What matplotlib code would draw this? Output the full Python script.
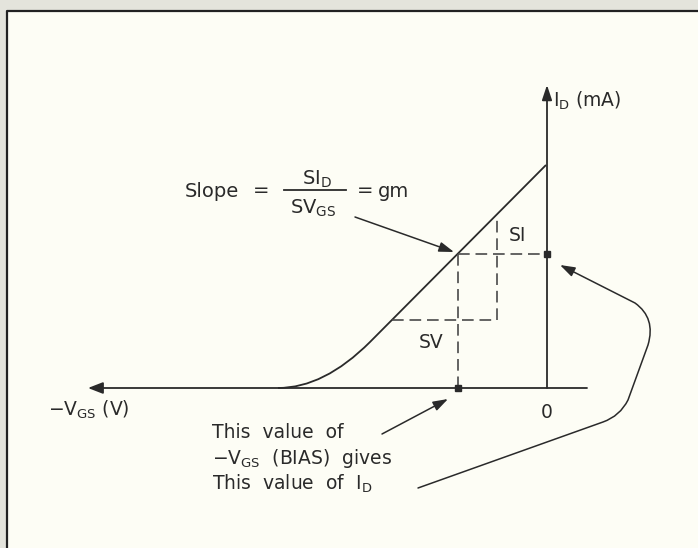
import matplotlib.pyplot as plt
from matplotlib.path import Path
from matplotlib.patches import PathPatch, FancyArrowPatch, Rectangle

# diagram units: 1 unit = 10 px, origin where the two axes cross
curve_v = [-26.9, -22.3, -17.7, -0.1]      # cutoff, bezier control, join, hits I_D axis
curve_i = [0.0, 0.0, 4.6, 22.3]
q_v, q_i = -8.9, 13.4                      # bias point
tri_v = [-15.5, -5.0, -5.0]                # SV / SI construction
tri_i = [6.8, 6.8, 17.3]
hook_v = [-12.9, 5.6, 7.3, 8.1, 10.1, 10.9, 8.8, 1.3]
hook_i = [-10.0, -3.4, -2.8, -1.2, 4.3, 7.0, 8.5, 12.3]

ink = '#2a2a2a'
fs = 13.5
fig = plt.figure(figsize=(6.98, 5.48), dpi=100, facecolor='#e4e4dc')
ax = fig.add_axes([0, 0, 1, 1])
ax.set_xlim(-54.7, 15.1)
ax.set_ylim(-16.0, 38.8)
ax.axis('off')

# paper panel with dark top/left edge
ax.add_patch(Rectangle((7 / 698, 0), 1, 1 - 11 / 548, transform=ax.transAxes,
                       facecolor='#fdfdf5', edgecolor='none', zorder=0))
ax.plot([7 / 698, 7 / 698, 1], [0, 1 - 11 / 548, 1 - 11 / 548], transform=ax.transAxes,
        color='#222222', lw=1.6, zorder=1)

# axes with arrows
ax.add_patch(FancyArrowPatch((4.0, 0), (-45.9, 0), arrowstyle='-|>,head_length=0.9,head_width=0.35',
                             color=ink, lw=1.3, mutation_scale=10, shrinkA=0, shrinkB=0))
ax.add_patch(FancyArrowPatch((0, 0), (0, 30.3), arrowstyle='-|>,head_length=0.9,head_width=0.3',
                             color=ink, lw=1.3, mutation_scale=10, shrinkA=0, shrinkB=0))

# transfer curve
verts = list(zip(curve_v, curve_i))
codes = [Path.MOVETO, Path.CURVE3, Path.CURVE3, Path.LINETO]
ax.add_patch(PathPatch(Path(verts, codes), facecolor='none', edgecolor=ink, lw=1.3))

# dashed constructions
dash = dict(color='#4a4a4a', lw=1.2, linestyle=(0, (7, 3.5)))
ax.plot([q_v, 0], [q_i, q_i], **dash)
ax.plot([q_v, q_v], [q_i, 0], **dash)
ax.plot(tri_v, tri_i, **dash)
ax.plot([0, q_v], [q_i, 0], 's', color=ink, markersize=4.5, linestyle='none')

ax.text(-3.0, 15.2, 'SI', fontsize=fs, ha='center', va='center', color=ink)
ax.text(-11.6, 4.6, 'SV', fontsize=fs, ha='center', va='center', color=ink)

# slope formula
ax.text(-36.2, 19.6, 'Slope', fontsize=14, ha='left', va='center', color=ink)
ax.text(-28.6, 19.7, '=', fontsize=14, ha='center', va='center', color=ink)
ax.text(-23.0, 20.3, 'SI$_\\mathregular{D}$', fontsize=14, ha='center', va='baseline', color=ink)
ax.plot([-26.3, -20.1], [19.8, 19.8], color=ink, lw=1.3)
ax.text(-23.4, 17.4, 'SV$_\\mathregular{GS}$', fontsize=14, ha='center', va='baseline', color=ink)
ax.text(-18.2, 19.7, '=', fontsize=14, ha='center', va='center', color=ink)
ax.text(-16.9, 19.6, 'gm', fontsize=14, ha='left', va='center', color=ink)
ax.add_patch(FancyArrowPatch((-19.2, 17.1), (-9.3, 13.6), arrowstyle='-|>,head_length=0.9,head_width=0.3',
                             color=ink, lw=1.1, mutation_scale=10, shrinkA=0, shrinkB=0))

# axis labels
ax.text(0.6, 28.7, 'I$_\\mathregular{D}$ (mA)', fontsize=fs, ha='left', va='center', color=ink)
ax.text(-49.9, -2.2, '\u2212V$_\\mathregular{GS}$ (V)', fontsize=fs, ha='left', va='center', color=ink)
ax.text(0.0, -2.4, '0', fontsize=fs, ha='center', va='center', color=ink)

# bias notes
ax.text(-33.5, -4.5, 'This  value  of', fontsize=fs, ha='left', va='center', color=ink)
ax.text(-33.5, -7.0, '\u2212V$_\\mathregular{GS}$  (BIAS)  gives', fontsize=fs, ha='left', va='center', color=ink)
ax.text(-33.5, -9.6, 'This  value  of  I$_\\mathregular{D}$', fontsize=fs, ha='left', va='center', color=ink)
ax.add_patch(FancyArrowPatch((-16.5, -4.6), (-9.9, -1.1), arrowstyle='-|>,head_length=0.9,head_width=0.3',
                             color=ink, lw=1.1, mutation_scale=10, shrinkA=0, shrinkB=0))

hook_codes = [Path.MOVETO, Path.LINETO, Path.CURVE3, Path.CURVE3,
              Path.LINETO, Path.CURVE3, Path.CURVE3, Path.LINETO]
hook = Path(list(zip(hook_v, hook_i)), hook_codes)
ax.add_patch(FancyArrowPatch(path=hook, arrowstyle='-|>,head_length=0.9,head_width=0.3',
                             color=ink, lw=1.1, mutation_scale=10))

fig.savefig('out.png', dpi=100, facecolor=fig.get_facecolor())
